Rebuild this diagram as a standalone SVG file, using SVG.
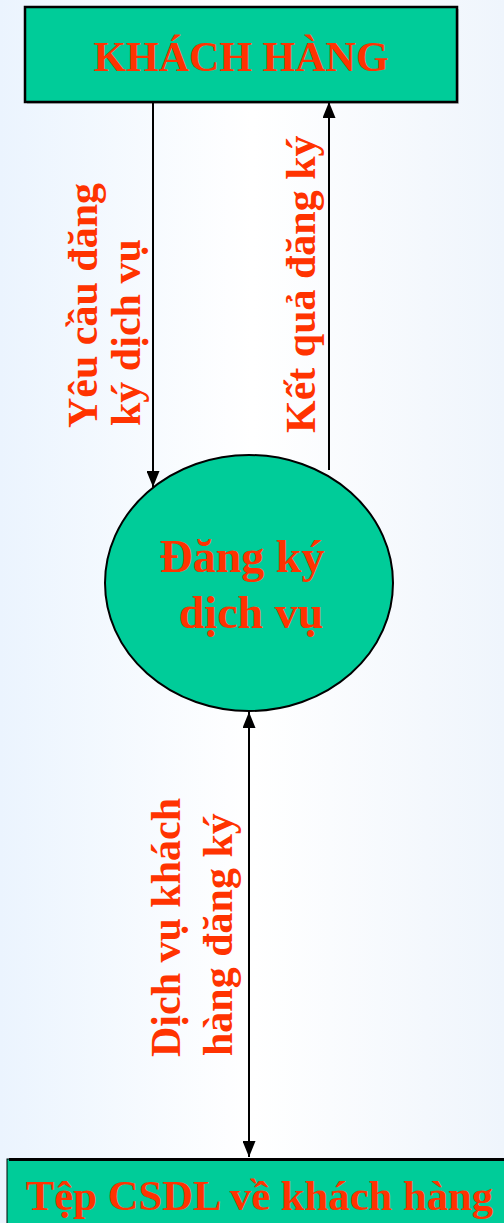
<svg xmlns="http://www.w3.org/2000/svg" width="504" height="1223" viewBox="0 0 504 1223">
<defs>
<linearGradient id="bg" x1="0" y1="0" x2="1" y2="0">
<stop offset="0" stop-color="#EBF4FE"/>
<stop offset="0.5" stop-color="#FFFFFF"/>
<stop offset="1" stop-color="#EFF5FC"/>
</linearGradient>
<marker id="ah" viewBox="0 0 16 13" refX="16" refY="6.5" markerWidth="16" markerHeight="13" markerUnits="userSpaceOnUse" orient="auto-start-reverse">
<path d="M0,0 L16,6.5 L0,13 Z" fill="#000"/>
</marker>
<style>
.t{font-family:"Liberation Serif","Times New Roman",serif;font-weight:bold;fill:#FF3300}
.node{fill:#00CC99;stroke:#000}
.c{stroke:#000;stroke-width:2;fill:none}
</style>
</defs>
<rect width="504" height="1223" fill="url(#bg)"/>
<g id="khach-hang">
<rect x="27" y="9" width="432" height="95" fill="#999" opacity="0.5"/>
<rect class="node" x="25" y="7" width="432" height="95" stroke-width="2.5"/>
<text class="t" x="241" y="71" font-size="42" text-anchor="middle">KHÁCH HÀNG</text>
</g>
<g id="dang-ky">
<ellipse class="node" cx="249" cy="583" rx="144" ry="128" stroke-width="2"/>
<text class="t" x="242" y="572" font-size="46" text-anchor="middle">Đăng ký</text>
<text class="t" x="251" y="628" font-size="46" text-anchor="middle">dịch vụ</text>
</g>
<g id="tep-csdl">
<rect class="node" x="7" y="1159" width="500" height="70" stroke="none"/>
<line x1="9" y1="1159.5" x2="504" y2="1159.5" stroke="#000" stroke-width="3"/>
<text class="t" x="259.5" y="1210" font-size="42.7" text-anchor="middle">Tệp CSDL về khách hàng</text>
</g>
<g id="connectors">
<line class="c" x1="153" y1="102" x2="153" y2="487" marker-end="url(#ah)"/>
<line class="c" x1="329" y1="470" x2="329" y2="102" marker-end="url(#ah)"/>
<line class="c" x1="249" y1="712" x2="249" y2="1157" marker-start="url(#ah)" marker-end="url(#ah)"/>
</g>
<g id="labels">
<text class="t" font-size="42" transform="translate(97,428) rotate(-90)">Yêu cầu đăng</text>
<text class="t" font-size="42" transform="translate(140,426) rotate(-90)">ký dịch vụ</text>
<text class="t" font-size="42" transform="translate(315,433) rotate(-90)">Kết quả đăng ký</text>
<text class="t" font-size="42" transform="translate(180,1057) rotate(-90)">Dịch vụ khách</text>
<text class="t" font-size="42" transform="translate(232,1056) rotate(-90)">hàng đăng ký</text>
</g>
</svg>
